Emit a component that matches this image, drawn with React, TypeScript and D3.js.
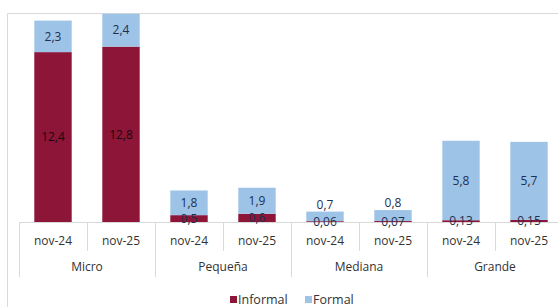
import React from "react";
import { scaleBand, scaleLinear } from "d3";

const groups = ["Micro", "Pequeña", "Mediana", "Grande"];
const periods = ["nov-24", "nov-25"];
const informal = [12.4, 12.8, 0.5, 0.6, 0.06, 0.07, 0.13, 0.15];
const formal = [2.3, 2.4, 1.8, 1.9, 0.7, 0.8, 5.8, 5.7];

const W = 558;
const H = 307;
const RED = "#8c1538";
const BLUE = "#9dc3e6";
const FONT = "'Open Sans', sans-serif";

const fmt = (v: number) => String(v).replace(".", ",");

const App = () => {
  const keys = informal.map((d, i) => i);
  const base = 222;

  const x = scaleBand<number>()
    .domain(keys)
    .range([19, 19 + 8 * 68])
    .paddingInner(0.45)
    .paddingOuter(0.225);

  const y = scaleLinear().domain([0, 16]).range([base, base - 16 * 13.7]);

  const step = x.step();
  const start = x.range()[0];

  return (
    <svg width={W} height={H} style={{ position: "absolute", left: 0, top: 0, background: "#fff" }}>
      {/* frame */}
      <line x1={7.5} x2={W} y1={13.5} y2={13.5} stroke="#d9d9d9" />
      <line x1={7.5} x2={7.5} y1={13.5} y2={H} stroke="#d9d9d9" />

      {/* separators */}
      {[0, 1, 2, 3, 4, 5, 6, 7, 8].map((i) => (
        <line
          key={i}
          x1={start + i * step + 0.5}
          x2={start + i * step + 0.5}
          y1={base}
          y2={i % 2 === 0 ? 277 : 251}
          stroke="#d9d9d9"
        />
      ))}
      <line x1={start} x2={W} y1={base + 0.5} y2={base + 0.5} stroke="#d9d9d9" />

      {keys.map((i) => {
        const bx = x(i)!;
        const bw = x.bandwidth();
        const yi = y(informal[i]);
        const yf = y(informal[i] + formal[i]);
        const cx = bx + bw / 2;
        const fh = yi - yf;
        const fy = fh > 14 ? (yi + yf) / 2 : yf - 7;
        return (
          <g key={i}>
            <rect x={bx} y={yi} width={bw} height={base - yi} fill={RED} />
            <rect x={bx} y={yf} width={bw} height={fh} fill={BLUE} />
            <text x={cx} y={fy} dy="0.35em" textAnchor="middle" fontFamily={FONT} fontSize={12} fill="#1f3050">
              {fmt(formal[i])}
            </text>
            <text x={cx} y={(yi + base) / 2} dy="0.35em" textAnchor="middle" fontFamily={FONT} fontSize={12} fill={informal[i] > 1 ? "#1a0a0e" : "#1f3050"}>
              {fmt(informal[i])}
            </text>
            <text x={cx} y={241} dy="0.35em" textAnchor="middle" fontFamily={FONT} fontSize={12} fill="#333">
              {periods[i % 2]}
            </text>
          </g>
        );
      })}

      {groups.map((g, gi) => (
        <text key={g} x={start + (gi * 2 + 1) * step} y={267} dy="0.35em" textAnchor="middle" fontFamily={FONT} fontSize={12} fill="#333">
          {g}
        </text>
      ))}

      {/* legend */}
      <g fontFamily={FONT} fontSize={12.5} fill="#333">
        <rect x={230} y={296} width={7} height={7} fill={RED} />
        <text x={238} y={300} dy="0.35em">Informal</text>
        <rect x={305} y={296} width={7} height={7} fill={BLUE} />
        <text x={313} y={300} dy="0.35em">Formal</text>
      </g>
    </svg>
  );
};

export default App;
